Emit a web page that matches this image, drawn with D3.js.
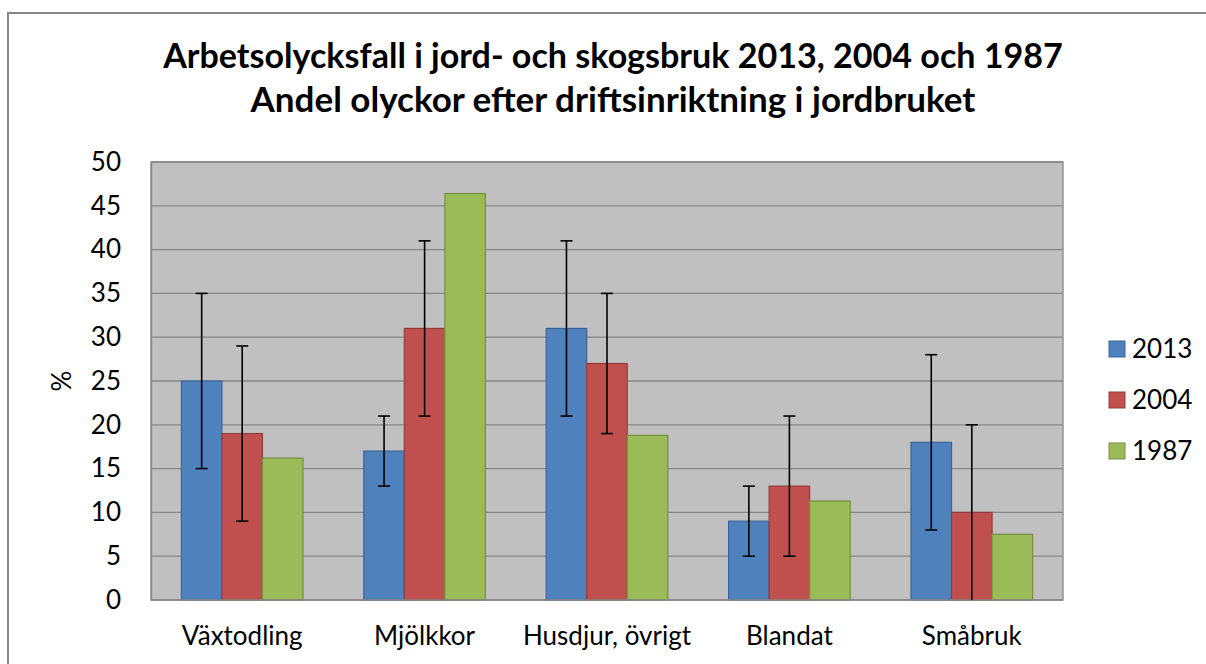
<!DOCTYPE html>
<html>
<head>
<meta charset="utf-8">
<script src="https://cdn.jsdelivr.net/npm/d3@7"></script>
<style>
  body { margin: 0; background: #fff; }
  svg { display: block; font-family: Lato, "Open Sans", sans-serif; }
</style>
</head>
<body>
<svg id="chart" width="1206" height="664"></svg>
<script>
// data
const categories = ["Växtodling", "Mjölkkor", "Husdjur, övrigt", "Blandat", "Småbruk"];
const seriesNames = ["2013", "2004", "1987"];
const values2013 = [25, 17, 31, 9, 18];
const values2004 = [19, 31, 27, 13, 10];
const values1987 = [16.2, 46.4, 18.8, 11.3, 7.5];
// +/- error bar sizes (1987 has none)
const err2013 = [10, 4, 10, 4, 10];
const err2004 = [10, 10, 8, 8, 10];
const yTicks = [0, 5, 10, 15, 20, 25, 30, 35, 40, 45, 50];
const titleLines = [
  "Arbetsolycksfall i jord- och skogsbruk 2013, 2004 och 1987",
  "Andel olyckor efter driftsinriktning i jordbruket"
];

const colors = {
  "2013": { fill: "#4f81bd", stroke: "#3a659a" },
  "2004": { fill: "#c0504d", stroke: "#943c3a" },
  "1987": { fill: "#9bbb59", stroke: "#76903f" }
};

const seriesValues = { "2013": values2013, "2004": values2004, "1987": values1987 };
const seriesErr = { "2013": err2013, "2004": err2004, "1987": null };

const svg = d3.select("#chart");

// outer chart frame
svg.append("rect")
  .attr("x", 8).attr("y", 13)
  .attr("width", 1230).attr("height", 700)
  .attr("fill", "#fff")
  .attr("stroke", "#878787")
  .attr("stroke-width", 2);

// plot area
const plot = { left: 151, right: 1063, top: 162, bottom: 600 };

const y = d3.scaleLinear().domain([0, 50]).range([plot.bottom, plot.top]);
const x0 = d3.scaleBand()
  .domain(categories)
  .range([plot.left, plot.right])
  .paddingInner(1 / 3)
  .paddingOuter(1 / 6);
const x1 = d3.scaleBand()
  .domain(seriesNames)
  .range([0, x0.bandwidth()]);

svg.append("rect")
  .attr("x", plot.left).attr("y", plot.top)
  .attr("width", plot.right - plot.left).attr("height", plot.bottom - plot.top)
  .attr("fill", "#c0c0c0")
  .attr("stroke", "#878787")
  .attr("stroke-width", 1.3);

// gridlines
svg.append("g")
  .selectAll("line")
  .data(yTicks.filter(d => d > 0))
  .join("line")
  .attr("x1", plot.left).attr("x2", plot.right)
  .attr("y1", d => y(d)).attr("y2", d => y(d))
  .attr("stroke", "#878787")
  .attr("stroke-width", 1.3);

// y axis labels
const yAxis = svg.append("g")
  .attr("transform", `translate(${plot.left},0)`)
  .call(d3.axisLeft(y).tickValues(yTicks).tickSize(0).tickPadding(30));
yAxis.select(".domain").attr("stroke", "#878787").attr("stroke-width", 1.3);
yAxis.selectAll("text")
  .attr("font-family", "Lato, sans-serif")
  .attr("font-size", 26)
  .attr("fill", "#000");

svg.append("text")
  .attr("transform", `translate(71,${(plot.top + plot.bottom) / 2}) rotate(-90)`)
  .attr("text-anchor", "middle")
  .attr("font-size", 26)
  .text("%");

// bars
const rows = categories.map((c, i) => ({ cat: c, i }));
const groups = svg.append("g")
  .selectAll("g")
  .data(rows)
  .join("g")
  .attr("transform", d => `translate(${x0(d.cat)},0)`);

groups.selectAll("rect")
  .data(d => seriesNames.map(s => ({ s, v: seriesValues[s][d.i] })))
  .join("rect")
  .attr("x", d => x1(d.s))
  .attr("y", d => y(d.v))
  .attr("width", x1.bandwidth())
  .attr("height", d => y(0) - y(d.v))
  .attr("fill", d => colors[d.s].fill)
  .attr("stroke", d => colors[d.s].stroke)
  .attr("stroke-width", 1.2);

// bottom axis line on top of bars
svg.append("line")
  .attr("x1", plot.left).attr("x2", plot.right)
  .attr("y1", plot.bottom).attr("y2", plot.bottom)
  .attr("stroke", "#878787")
  .attr("stroke-width", 1.5);

// error bars
const capHalf = 6;
const errData = [];
rows.forEach(r => {
  seriesNames.forEach(s => {
    if (!seriesErr[s]) return;
    const v = seriesValues[s][r.i], e = seriesErr[s][r.i];
    errData.push({ cat: r.cat, s, lo: Math.max(0, v - e), hi: v + e, clipped: v - e <= 0 });
  });
});
const eb = svg.append("g")
  .selectAll("g")
  .data(errData)
  .join("g")
  .attr("transform", d => `translate(${x0(d.cat) + x1(d.s) + x1.bandwidth() / 2},0)`)
  .attr("stroke", "#000")
  .attr("stroke-width", 1.6);
eb.append("line")
  .attr("y1", d => y(d.lo)).attr("y2", d => y(d.hi));
eb.append("line")
  .attr("x1", -capHalf).attr("x2", capHalf)
  .attr("y1", d => y(d.hi)).attr("y2", d => y(d.hi));
eb.filter(d => !d.clipped).append("line")
  .attr("x1", -capHalf).attr("x2", capHalf)
  .attr("y1", d => y(d.lo)).attr("y2", d => y(d.lo));

// category labels
svg.append("g")
  .selectAll("text")
  .data(categories)
  .join("text")
  .attr("x", d => x0(d) + x0.bandwidth() / 2)
  .attr("y", 645)
  .attr("text-anchor", "middle")
  .attr("font-size", 26)
  .text(d => d);

// legend
const legend = svg.append("g")
  .selectAll("g")
  .data(seriesNames)
  .join("g")
  .attr("transform", (d, i) => `translate(1109,${349 + i * 51})`);
legend.append("rect")
  .attr("x", 0).attr("y", -8)
  .attr("width", 16).attr("height", 16)
  .attr("fill", d => colors[d].fill)
  .attr("stroke", d => colors[d].stroke)
  .attr("stroke-width", 1);
legend.append("text")
  .attr("x", 23).attr("y", 9)
  .attr("font-size", 26)
  .text(d => d);

// title, sized to the reference line widths
const titleWidths = [900, 725];
const titleBase = [68, 112];
titleLines.forEach((t, i) => {
  const txt = svg.append("text")
    .attr("x", 613)
    .attr("y", titleBase[i])
    .attr("text-anchor", "middle")
    .attr("font-weight", "bold")
    .attr("font-size", 30)
    .text(t);
  const w = txt.node().getComputedTextLength();
  txt.attr("font-size", 30 * titleWidths[i] / w);
});
</script>
</body>
</html>
